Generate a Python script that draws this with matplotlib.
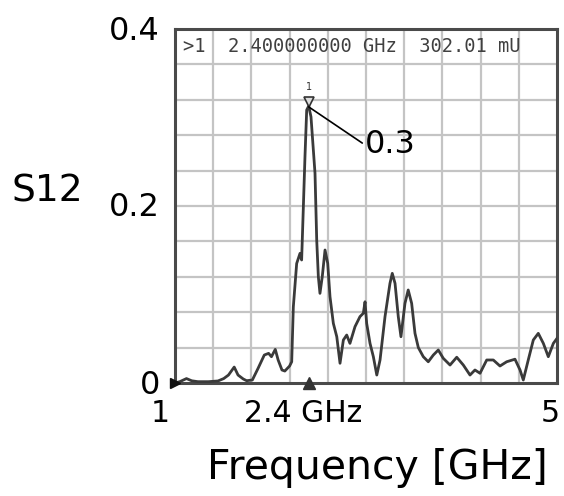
import matplotlib
matplotlib.use("Agg")
import matplotlib.pyplot as plt

freq = [1.00, 1.05, 1.12, 1.175, 1.24, 1.35, 1.45, 1.51, 1.56, 1.62, 1.66, 1.715, 1.75, 1.81,
        1.87, 1.935, 1.98, 2.01, 2.05, 2.08, 2.12, 2.15, 2.20, 2.222, 2.239, 2.274, 2.309, 2.326,
        2.343, 2.361, 2.379, 2.40, 2.424, 2.466, 2.484, 2.501, 2.518, 2.542, 2.571, 2.599, 2.623,
        2.658, 2.694, 2.728, 2.763, 2.798, 2.832, 2.885, 2.937, 2.972, 2.99, 3.007, 3.042, 3.077,
        3.113, 3.147, 3.199, 3.251, 3.275, 3.304, 3.338, 3.366, 3.408, 3.442, 3.478, 3.513, 3.548,
        3.60, 3.652, 3.705, 3.757, 3.809, 3.88, 3.95, 4.019, 4.089, 4.141, 4.194, 4.264, 4.333,
        4.403, 4.473, 4.56, 4.613, 4.647, 4.699, 4.752, 4.804, 4.857, 4.909, 4.962, 5.0]
s12 = [0.000, 0.0015, 0.005, 0.0025, 0.0015, 0.0015, 0.0023, 0.005, 0.009, 0.018, 0.009, 0.0045,
       0.0026, 0.0034, 0.0166, 0.0316, 0.0335, 0.0297, 0.038, 0.026, 0.0147, 0.0135, 0.0192,
       0.024, 0.086, 0.135, 0.1465, 0.139, 0.1955, 0.2557, 0.3085, 0.313, 0.3007, 0.237, 0.1613,
       0.1201, 0.1013, 0.1201, 0.1503, 0.1353, 0.0975, 0.0674, 0.0523, 0.0223, 0.0486, 0.0542,
       0.0448, 0.0637, 0.075, 0.0788, 0.0918, 0.0674, 0.0448, 0.0297, 0.009, 0.026, 0.075,
       0.1126, 0.1239, 0.1126, 0.075, 0.0523, 0.09, 0.1051, 0.09, 0.0561, 0.040, 0.0297, 0.024,
       0.0316, 0.0373, 0.0279, 0.0203, 0.0291, 0.0203, 0.009, 0.0147, 0.011, 0.026, 0.026,
       0.0192, 0.024, 0.0269, 0.0147, 0.0034, 0.026, 0.0486, 0.0561, 0.0448, 0.0297, 0.0448,
       0.0504]

marker_f = 2.4
marker_v = 0.302
header_text = ">1  2.400000000 GHz  302.01 mU"
xtick_vals = [1, 2.4, 5]
xtick_labels = ["1", "2.4 GHz", "5"]
ytick_vals = [0, 0.2, 0.4]
ytick_labels = ["0", "0.2", "0.4"]

W, H = 564, 496
fig = plt.figure(figsize=(W / 100, H / 100), dpi=100)
ax = fig.add_axes([175 / W, 1 - 383 / H, 382 / W, 354 / H])
ax.set_xlim(1, 5)
ax.set_ylim(0, 0.4)

# grid 10 x 10
for i in range(1, 10):
    ax.axvline(1 + 0.4 * i, color="#c4c4c4", lw=1.6, zorder=1)
    ax.axhline(0.04 * i, color="#c4c4c4", lw=1.6, zorder=1)

ax.plot(freq, s12, color="#3a3a3a", lw=2.0, zorder=3)

for sp in ax.spines.values():
    sp.set_color("#4a4a4a")
    sp.set_linewidth(2.2)

ax.set_xticks([])
ax.set_yticks([])

# header row
ax.text(0.021, 0.95, header_text, transform=ax.transAxes, ha="left", va="center",
        family="DejaVu Sans Mono", fontsize=13.5, color="#404040", zorder=4)

# marker
ax.plot([marker_f], [0.318], marker="v", ms=7, mfc="#dddddd", mec="#333333", mew=1.2,
        zorder=5, clip_on=False)
ax.text(marker_f, 0.335, "1", ha="center", va="center", fontsize=7, color="#333333", zorder=5)

# annotation
ax.annotate("0.3", xy=(marker_f, 0.312), xytext=(2.99, 0.269), textcoords="data",
            ha="left", va="center", fontsize=23, color="black",
            arrowprops=dict(arrowstyle="-", color="black", lw=1.2, shrinkA=0, shrinkB=0,
                            relpos=(0, 0.5)), zorder=6)

# bottom stimulus markers
ax.plot([marker_f], [0], marker="^", ms=8, color="#333333", clip_on=False, zorder=6)
ax.plot([1], [0], marker=">", ms=7, color="#111111", clip_on=False, zorder=6)

# tick labels
xoffs = [-15, -6, -7]
for v, lab, dx in zip(xtick_vals, xtick_labels, xoffs):
    ax.annotate(lab, xy=(v, 0), xycoords=("data", "axes fraction"),
                xytext=(dx, -31), textcoords="offset pixels",
                ha="center", va="center", fontsize=21.5, color="black")
for v, lab in zip(ytick_vals, ytick_labels):
    ax.annotate(lab, xy=(0, v), xycoords=("axes fraction", "data"),
                xytext=(-15, -2), textcoords="offset pixels",
                ha="right", va="center", fontsize=23, color="black")

fig.text(47 / W, 1 - 192 / H, "S12", ha="center", va="center", fontsize=27, color="black")
fig.text(377 / W, 1 - 468 / H, "Frequency [GHz]", ha="center", va="center", fontsize=29.5,
         color="black")

fig.savefig("out.png", dpi=100)
